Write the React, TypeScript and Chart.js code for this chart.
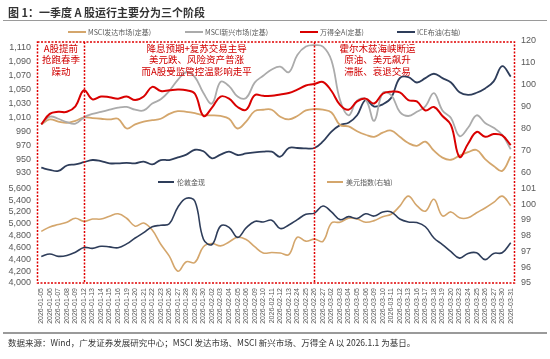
import React, { useEffect, useRef } from "react";
import { Chart, registerables } from "chart.js";

Chart.register(...registerables);

const dates = [
  "2026-01-05","2026-01-06","2026-01-07","2026-01-08","2026-01-09","2026-01-12","2026-01-13","2026-01-14","2026-01-15","2026-01-16",
  "2026-01-19","2026-01-20","2026-01-21","2026-01-22","2026-01-23","2026-01-26","2026-01-27","2026-01-28","2026-01-29","2026-01-30",
  "2026-02-02","2026-02-03","2026-02-04","2026-02-05","2026-02-06","2026-02-09","2026-02-10","2026-02-11","2026-02-12","2026-02-13",
  "2026-02-24","2026-02-25","2026-02-26","2026-02-27","2026-03-02","2026-03-03","2026-03-04","2026-03-05","2026-03-06","2026-03-09",
  "2026-03-10","2026-03-11","2026-03-12","2026-03-13","2026-03-16","2026-03-17","2026-03-18","2026-03-19","2026-03-20","2026-03-23",
  "2026-03-24","2026-03-25","2026-03-26","2026-03-27","2026-03-30","2026-03-31"
];

// 万得全A(定基)
const windA = [
  1000,1015,1018,1018,1026,1049,1036,1040,1039,1037,
  1040,1035,1040,1054,1048,1049,1050,1049,1044,1012,
  1024,1040,1037,1025,1021,1042,1041,1041,1043,1045,
  1050,1056,1058,1061,1048,1028,1021,1033,1037,1030,
  1044,1047,1046,1035,1033,1020,1025,1012,999,953,
  972,989,982,986,984,970
];
// MSCI新兴市场(定基)
const msciEM = [
  1000,1011,1008,1003,1001,1010,1015,1018,1021,1024,
  1025,1021,1020,1030,1036,1048,1064,1075,1068,1045,
  1030,1061,1055,1040,1038,1060,1070,1079,1083,1075,
  1100,1112,1114,1112,1092,1035,1013,1034,1036,1005,
  1045,1042,1018,1012,1018,1026,1045,1020,1009,983,
  995,1013,1002,995,985,964
];
// MSCI发达市场(定基)
const msciDM = [
  1000,1007,1004,1002,1005,1010,1009,1008,1007,1008,
  994,1000,1004,1006,1008,1015,1019,1018,1016,1013,
  1013,1012,1008,994,1004,1019,1021,1021,1011,1007,
  1012,1020,1022,1021,1017,999,997,990,985,982,
  988,991,982,973,969,975,962,952,949,955,
  960,963,950,940,933,954
];
// ICE布油(右轴)
const iceBrent = [
  62,61,60.5,63,63.5,64.5,65.5,65,64,64,
  64.2,64,64.8,63.5,65.5,65.5,66.7,68,70.2,69.5,
  66.3,68,69.3,67.8,68.5,69,69.3,69.3,67,71,
  71,70.8,71,74,78.5,81.5,82.6,86,93,90,
  91,94,103,103.5,101,103,105,103,101,96.5,
  95.3,96.3,98.3,101.5,108.5,103.7
];
// 伦敦金现
const goldSpot = [
  4448,4490,4450,4465,4520,4600,4585,4620,4610,4595,
  4660,4760,4850,4950,4975,5000,5280,5430,5380,4740,
  4650,4960,4940,4770,4930,5040,5030,5060,4920,4980,
  5070,5160,5180,5300,5200,5070,5120,5090,5170,5130,
  5200,5200,5080,5030,5020,4950,4760,4650,4530,4420,
  4500,4510,4395,4500,4510,4680
];
// 美元指数(右轴)
const dollarIndex = [
  98.27,98.55,98.7,98.85,99.1,98.9,99.05,99.05,99.23,99.38,
  99.1,98.6,98.8,98.35,97.45,96.7,95.75,96.35,96.3,97.3,
  97.5,97.35,97.6,97.9,97.75,97.3,96.9,96.93,96.9,96.8,
  97.9,97.65,97.78,97.64,98.8,98.85,99.1,99.05,98.85,98.95,
  99.2,99.35,99.87,100.5,99.9,99.55,100.3,99.25,99.5,99.13,
  99.13,99.45,99.75,100.1,100.5,99.9
];

const topLeftTicks = [930, 950, 970, 990, 1010, 1030, 1050, 1070, 1090, 1110];
const topRightTicks = [60, 70, 80, 90, 100, 110, 120];
const bottomLeftTicks = [4000, 4200, 4400, 4600, 4800, 5000, 5200, 5400, 5600];
const bottomRightTicks = [95, 96, 97, 98, 99, 100, 101];

const phaseBreaks = [5, 32];
const phaseNotes = [
  { center: 2.3, lines: ["A股提前", "抢跑春季", "躁动"] },
  { center: 18.2, lines: ["降息预期+复苏交易主导", "美元跌、风险资产普涨", "而A股受监管控温影响走平"] },
  { center: 39.4, lines: ["霍尔木兹海峡断运", "原油、美元飙升", "滞胀、衰退交易"] },
];

const TAN = "#D4A66C";
const GREY = "#ABABAB";
const RED = "#D90000";
const NAVY = "#2E3D5A";
const LABEL = "#595959";
const FONT = "'Liberation Sans', Arial, sans-serif";
const CJK = "'Noto Sans CJK SC', sans-serif";

const fixedTicks = (vals: number[]) => (axis: any) => {
  axis.ticks = vals.map((v) => ({ value: v }));
};

const phasePlugin = {
  id: "phases",
  afterDatasetsDraw(chart: any) {
    const { ctx, chartArea: a, scales } = chart;
    const x = scales.x;
    ctx.save();
    ctx.strokeStyle = "#E00000";
    ctx.lineWidth = 1.5;
    ctx.setLineDash([2, 1.5]);
    ctx.strokeRect(a.left + 0.5, a.top + 1, a.right - a.left - 1, a.bottom - a.top - 1);
    phaseBreaks.forEach((idx) => {
      const px = Math.round(x.getPixelForValue(idx)) + 0.5;
      ctx.beginPath();
      ctx.moveTo(px, a.top + 1);
      ctx.lineTo(px, a.bottom);
      ctx.stroke();
    });
    ctx.setLineDash([]);
    ctx.fillStyle = "#D00000";
    ctx.font = `400 9.5px ${CJK}`;
    ctx.textAlign = "center";
    ctx.textBaseline = "middle";
    phaseNotes.forEach((n) => {
      const cx = x.getPixelForValue(n.center);
      n.lines.forEach((t, i) => {
        ctx.fillText(t, cx, a.top + 7 + i * 11.5);
      });
    });
    ctx.restore();
  },
};

export default function App() {
  const ref = useRef<HTMLCanvasElement | null>(null);

  useEffect(() => {
    if (!ref.current) return;
    const tickFont = { family: FONT, size: 9 };
    const yCommon = (pos: string, stack: string, weight: number, min: number, max: number, ticks: number[], width: number) => ({
      type: "linear",
      position: pos,
      stack,
      stackWeight: weight,
      min,
      max,
      grid: { display: false, drawTicks: false },
      border: { display: false },
      afterBuildTicks: fixedTicks(ticks),
      afterFit: (s: any) => { s.width = width; },
      ticks: {
        autoSkip: false,
        color: LABEL,
        font: tickFont,
        padding: 6,
        callback: (v: any) => Number(v).toLocaleString("en-US"),
      },
    });

    const chart = new Chart(ref.current, {
      type: "line",
      data: {
        labels: dates,
        datasets: [
          { label: "万得全A(定基)", data: windA, yAxisID: "yL1", borderColor: RED, borderWidth: 2, order: 1 },
          { label: "MSCI新兴市场(定基)", data: msciEM, yAxisID: "yL1", borderColor: GREY, borderWidth: 1.8, order: 2 },
          { label: "MSCI发达市场(定基)", data: msciDM, yAxisID: "yL1", borderColor: TAN, borderWidth: 1.8, order: 3 },
          { label: "ICE布油(右轴)", data: iceBrent, yAxisID: "yR1", borderColor: NAVY, borderWidth: 1.8, order: 4 },
          { label: "伦敦金现", data: goldSpot, yAxisID: "yL2", borderColor: NAVY, borderWidth: 1.6, order: 5 },
          { label: "美元指数(右轴)", data: dollarIndex, yAxisID: "yR2", borderColor: TAN, borderWidth: 1.6, order: 6 },
        ].map((d) => ({ ...d, pointRadius: 0, tension: 0.4, fill: false })) as any,
      },
      options: {
        responsive: false,
        animation: false,
        devicePixelRatio: 1,
        layout: { padding: { top: 41, bottom: 24, left: 0, right: 0 } },
        plugins: { legend: { display: false }, tooltip: { enabled: false } },
        scales: {
          x: {
            type: "category",
            offset: true,
            grid: { display: false, drawTicks: false },
            border: { display: false },
            afterFit: (s: any) => { s.height = 52; },
            ticks: {
              autoSkip: false,
              minRotation: 90,
              maxRotation: 90,
              color: LABEL,
              font: { family: FONT, size: 7 },
              padding: 5,
            },
          },
          // left boxes are stacked in reverse definition order: define the lower panel first
          yL2: yCommon("left", "L", 106.6, 4000, 5800, bottomLeftTicks, 37),
          yL1: yCommon("left", "L", 135.4, 925, 1120, topLeftTicks, 37),
          yR1: yCommon("right", "R", 135.4, 58, 120, topRightTicks, 35),
          yR2: yCommon("right", "R", 106.6, 95, 101.75, bottomRightTicks, 35),
        } as any,
      },
      plugins: [phasePlugin],
    } as any);
    return () => chart.destroy();
  }, []);

  const legendText: React.CSSProperties = {
    position: "absolute",
    fontFamily: CJK,
    fontSize: 7,
    color: LABEL,
    lineHeight: "10px",
    whiteSpace: "nowrap",
  };
  const swatch = (left: number, top: number, color: string, w = 18): React.CSSProperties => ({
    position: "absolute",
    left,
    top,
    width: w,
    height: 2,
    background: color,
  });

  const topLegend = [
    { x: 68, color: TAN, text: "MSCI发达市场(定基)" },
    { x: 185, color: GREY, text: "MSCI新兴市场(定基)" },
    { x: 300, color: RED, text: "万得全A(定基)" },
    { x: 397, color: NAVY, text: "ICE布油(右轴)" },
  ];
  const bottomLegend = [
    { x: 158, color: NAVY, text: "伦敦金现" },
    { x: 327, color: TAN, text: "美元指数(右轴)" },
  ];

  return (
    <div style={{ position: "fixed", left: 0, top: 0, width: 550, height: 359, background: "#fff", overflow: "hidden" }}>
      <canvas ref={ref} width={550} height={359} style={{ position: "absolute", left: 0, top: 0, width: 550, height: 359 }} />
      <div style={{ position: "absolute", left: 8, top: 4, fontFamily: CJK, fontWeight: 700, fontSize: 11, color: "#333", lineHeight: "16px", whiteSpace: "nowrap" }}>
        图 1：一季度 A 股运行主要分为三个阶段
      </div>
      <div style={{ position: "absolute", left: 3, top: 20, width: 544, height: 1, background: "#9a9a9a" }} />
      {topLegend.map((l) => (
        <React.Fragment key={l.text}>
          <div style={swatch(l.x, 31, l.color)} />
          <div style={{ ...legendText, left: l.x + 20, top: 27 }}>{l.text}</div>
        </React.Fragment>
      ))}
      {bottomLegend.map((l) => (
        <React.Fragment key={l.text}>
          <div style={swatch(l.x, 181, l.color, 16)} />
          <div style={{ ...legendText, left: l.x + 19, top: 177 }}>{l.text}</div>
        </React.Fragment>
      ))}
      <div style={{ position: "absolute", left: 3, top: 332, width: 544, height: 2, background: "#9a9a9a" }} />
      <div style={{ position: "absolute", left: 8, top: 336, fontFamily: CJK, fontSize: 8.5, color: "#333", lineHeight: "12px", whiteSpace: "nowrap" }}>
        数据来源：Wind，广发证券发展研究中心；MSCI 发达市场、MSCI 新兴市场、万得全 A 以 2026.1.1 为基日。
      </div>
    </div>
  );
}
